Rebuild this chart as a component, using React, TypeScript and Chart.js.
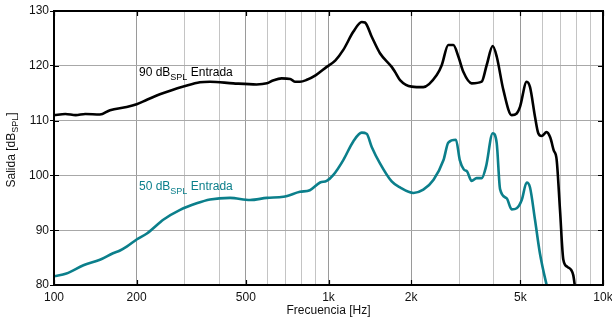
import React, { useEffect, useRef } from "react";
import { Chart, registerables } from "chart.js";

Chart.register(...registerables);

// ---- Data ----
const freqTicks = [100, 200, 300, 400, 500, 600, 700, 800, 900, 1000, 2000, 3000, 4000, 5000, 6000, 7000, 8000, 9000, 10000];
const labeledFreqs = [100, 200, 500, 1000, 2000, 5000, 10000];
const yTicks = [80, 90, 100, 110, 120, 130];

const black90Freq = [100, 110, 120, 130, 147, 160, 184, 200, 218, 243, 270, 296, 340, 370, 450, 547, 596, 627, 675, 725, 754, 787, 830, 900, 985, 1060, 1132, 1231, 1321, 1358, 1437, 1540, 1699, 1747, 1822, 2010, 2215, 2479, 2585, 2732, 2850, 2972, 3098, 3322, 3614, 3768, 3965, 4100, 4335, 4649, 4849, 4985, 5272, 5422, 5653, 5810, 5975, 6232, 6425, 6610, 6781, 6972, 7170, 7420, 7792, 7888, 7950];
const black90Db = [111.0, 111.2, 111.0, 111.2, 111.1, 111.9, 112.5, 113.0, 113.8, 114.8, 115.6, 116.2, 117.0, 117.1, 116.8, 116.6, 116.8, 117.3, 117.7, 117.6, 117.1, 117.1, 117.4, 118.3, 119.8, 121.0, 122.9, 126.2, 128.0, 127.9, 125.3, 122.3, 119.8, 118.9, 117.4, 116.2, 116.1, 118.3, 120.1, 123.8, 123.8, 121.7, 118.9, 116.8, 117.1, 120.1, 123.6, 121.7, 115.6, 111.0, 111.3, 112.5, 117.1, 116.1, 110.7, 107.7, 107.2, 107.9, 106.9, 104.6, 102.8, 93.7, 84.6, 83.3, 81.8, 80.0, 78.5];

const teal50Freq = [100, 111, 128, 147, 164, 174, 184, 200, 218, 243, 250, 288, 331, 370, 438, 518, 596, 685, 787, 855, 932, 985, 1042, 1132, 1231, 1321, 1377, 1437, 1540, 1699, 1822, 2039, 2215, 2414, 2624, 2732, 2913, 3008, 3110, 3199, 3322, 3464, 3614, 3748, 3965, 4100, 4217, 4461, 4649, 4849, 5057, 5272, 5422, 5653, 5890, 6232, 6320];
const teal50Db = [81.6, 82.1, 83.6, 84.6, 85.8, 86.3, 87.0, 88.3, 89.4, 91.4, 91.9, 93.7, 94.9, 95.6, 95.9, 95.5, 95.9, 96.1, 97.0, 97.3, 98.7, 99.0, 100.1, 102.8, 106.2, 107.8, 107.6, 105.2, 102.2, 98.9, 97.8, 96.8, 97.4, 99.2, 102.8, 106.0, 106.5, 102.8, 101.1, 100.7, 99.0, 99.5, 99.5, 101.6, 107.7, 105.9, 97.5, 95.8, 93.8, 94.0, 95.5, 98.7, 97.8, 91.9, 85.8, 80.0, 78.8];

const FONT = "'Liberation Sans', Arial, Helvetica, sans-serif";
const BLACK = "#000000";
const TEAL = "#0b7f8b";

function fmtFreq(v: number): string {
  if (v >= 1000) return v / 1000 + "k";
  return String(v);
}

type Seg = { t: string; size: number; dy: number };

function drawRich(ctx: CanvasRenderingContext2D, x: number, y: number, segs: Seg[], color: string, align: "left" | "center") {
  let total = 0;
  for (const s of segs) {
    ctx.font = `${s.size}px ${FONT}`;
    total += ctx.measureText(s.t).width;
  }
  let cx = align === "center" ? x - total / 2 : x;
  ctx.fillStyle = color;
  ctx.textBaseline = "middle";
  ctx.textAlign = "left";
  for (const s of segs) {
    ctx.font = `${s.size}px ${FONT}`;
    ctx.fillText(s.t, cx, y + s.dy);
    cx += ctx.measureText(s.t).width;
  }
}

const framePlugin = {
  id: "frameAndText",
  afterDraw(chart: any) {
    const { ctx, chartArea } = chart;
    const { left, right, top, bottom } = chartArea;
    const xs = chart.scales.x;
    const ys = chart.scales.y;
    ctx.save();
    ctx.strokeStyle = "#000";
    ctx.lineWidth = 2;
    ctx.strokeRect(left, top, right - left, bottom - top);
    ctx.lineWidth = 1.2;
    ctx.beginPath();
    for (const f of labeledFreqs) {
      const px = Math.round(xs.getPixelForValue(f)) + 0.5;
      ctx.moveTo(px, top);
      ctx.lineTo(px, top + 5);
      ctx.moveTo(px, bottom);
      ctx.lineTo(px, bottom - 5);
    }
    for (const v of yTicks) {
      const py = Math.round(ys.getPixelForValue(v)) + 0.5;
      ctx.moveTo(right, py);
      ctx.lineTo(right - 5, py);
      ctx.moveTo(left, py);
      ctx.lineTo(left + 5, py);
    }
    ctx.stroke();

    // annotations
    const y90 = ys.getPixelForValue(118.7);
    const y50 = ys.getPixelForValue(97.9);
    const ax = 139;
    drawRich(ctx, ax, y90, [
      { t: "90 dB", size: 12, dy: 0 },
      { t: "SPL", size: 9, dy: 5 },
      { t: " Entrada", size: 12, dy: 0 },
    ], BLACK, "left");
    drawRich(ctx, ax, y50, [
      { t: "50 dB", size: 12, dy: 0 },
      { t: "SPL", size: 9, dy: 5 },
      { t: " Entrada", size: 12, dy: 0 },
    ], TEAL, "left");

    // x title
    drawRich(ctx, (left + right) / 2, 311, [{ t: "Frecuencia [Hz]", size: 12, dy: 0 }], "#111", "center");

    // y title rotated
    ctx.save();
    ctx.translate(12, 150);
    ctx.rotate(-Math.PI / 2);
    drawRich(ctx, 0, 0, [
      { t: "Salida [dB", size: 12, dy: 0 },
      { t: "SPL", size: 9, dy: 4 },
      { t: "]", size: 12, dy: 0 },
    ], "#111", "center");
    ctx.restore();
    ctx.restore();
  },
};

export default function App() {
  const ref = useRef<HTMLCanvasElement | null>(null);
  useEffect(() => {
    if (!ref.current) return;
    const blackData = black90Freq.map((f, i) => ({ x: f, y: black90Db[i] }));
    const tealData = teal50Freq.map((f, i) => ({ x: f, y: teal50Db[i] }));
    const chart = new Chart(ref.current, {
      type: "line",
      data: {
        datasets: [
          {
            label: "90 dB SPL Entrada",
            data: blackData,
            borderColor: BLACK,
            borderWidth: 2.6,
            pointRadius: 0,
            tension: 0.3,
            cubicInterpolationMode: "monotone",
          },
          {
            label: "50 dB SPL Entrada",
            data: tealData,
            borderColor: TEAL,
            borderWidth: 2.6,
            pointRadius: 0,
            tension: 0.3,
            cubicInterpolationMode: "monotone",
          },
        ],
      },
      options: {
        responsive: false,
        animation: false,
        devicePixelRatio: 1,
        layout: { padding: { top: 11, right: 9, left: 0, bottom: 0 } },
        plugins: { legend: { display: false }, tooltip: { enabled: false } },
        scales: {
          x: {
            type: "logarithmic",
            min: 100,
            max: 10000,
            border: { display: false },
            afterBuildTicks: (scale: any) => {
              scale.ticks = freqTicks.map((v) => ({ value: v }));
            },
            afterFit: (scale: any) => {
              scale.height = 37;
              scale.paddingLeft = 0;
              scale.paddingRight = 0;
            },
            grid: {
              drawTicks: false,
              lineWidth: 1,
              color: (c: any) => (c.tick && labeledFreqs.includes(c.tick.value) ? "#9a9a9a" : "#c4c4c4"),
            },
            ticks: {
              autoSkip: false,
              maxRotation: 0,
              padding: 5,
              color: "#111",
              font: { family: FONT, size: 12 },
              callback: (v: any) => (labeledFreqs.includes(Number(v)) ? fmtFreq(Number(v)) : ""),
            },
          },
          y: {
            type: "linear",
            min: 80,
            max: 130,
            border: { display: false },
            afterBuildTicks: (scale: any) => {
              scale.ticks = yTicks.map((v) => ({ value: v }));
            },
            afterFit: (scale: any) => {
              scale.width = 54;
              scale.paddingTop = 0;
              scale.paddingBottom = 0;
            },
            grid: {
              drawTicks: true,
              tickLength: 4,
              tickColor: "#000",
              color: "#a8a8a8",
              lineWidth: 1,
            },
            ticks: {
              padding: 1,
              color: "#111",
              font: { family: FONT, size: 12 },
              callback: (v: any) => String(v),
            },
          },
        },
      },
      plugins: [framePlugin],
    } as any);
    return () => chart.destroy();
  }, []);
  return (
    <div style={{ position: "fixed", left: 0, top: 0, width: 612, height: 322, background: "#fff" }}>
      <canvas ref={ref} width={612} height={322} style={{ display: "block" }} />
    </div>
  );
}
